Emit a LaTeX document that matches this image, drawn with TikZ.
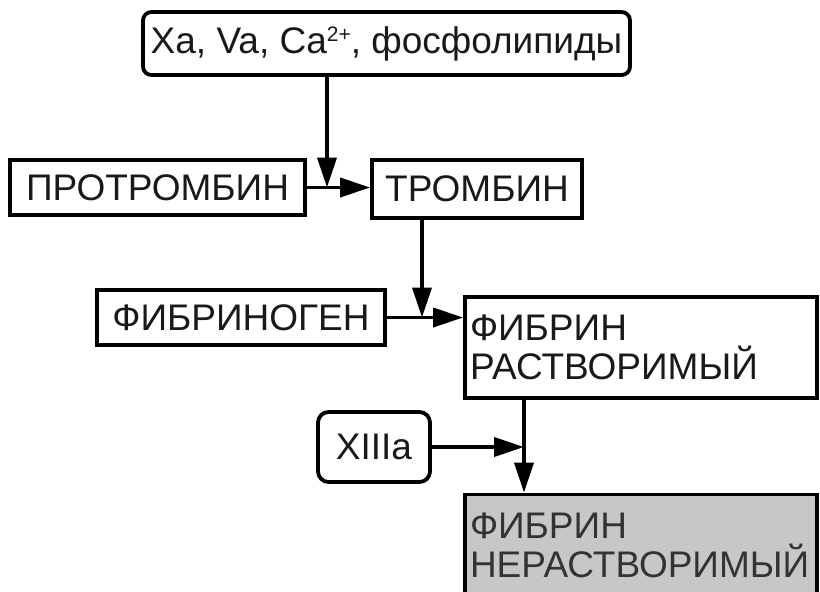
\documentclass[tikz,border=0pt]{standalone}
\usepackage{fontspec}
\setmainfont{Liberation Sans}
\usetikzlibrary{arrows.meta,positioning}
\newdimen\px
\px=0.5pt
\tikzstyle{arrow} = [line width=1.9pt,-{Triangle[length=15pt,width=9.5pt]}]

\begin{document}
\begin{tikzpicture} [
    x=\px, y=-\px,
    box/.style={rectangle,draw,line width=1.9pt,fill=white,text=black!90,inner sep=0pt,
                font=\fontsize{18.5}{19.5}\selectfont},
    res/.style={box,align=left,text width=342\px,minimum height=101\px},
    ]
    \path[use as bounding box,clip] (0,0) rectangle (820,591);
    \fill[white] (0,0) rectangle (820,591);

    \node [box,rounded corners=.8ex,minimum width=487\px,minimum height=63\px] (xa) at (386.5,43.5)
          {Xa, Va, Ca\raisebox{0.6ex}{\fontsize{10.5}{10.5}\selectfont 2+}, фосфолипиды};
    \node [box,minimum width=295\px,minimum height=55\px] (pro) at (157.5,187.5) {ПРОТРОМБИН};
    \node [box,minimum width=210\px,minimum height=58\px] (trom) at (477,189) {ТРОМБИН};
    \node [box,minimum width=288\px,minimum height=55\px] (fgen) at (241,317.5) {ФИБРИНОГЕН};
    \node [res,minimum width=352\px] (fsol) at (641,347.5) {ФИБРИН\\РАСТВОРИМЫЙ};
    \node [box,rounded corners=1ex,minimum width=112\px,minimum height=70\px] (xiii) at (374,447) {XIIIa};
    \node [res,minimum width=352\px,fill=black!22,text=black!80] (fins) at (641,545) {ФИБРИН\\НЕРАСТВОРИМЫЙ};

    % junctions on the lines
    \coordinate (j1) at (327,187.5);
    \coordinate (j2) at (422,317.5);
    \coordinate (j3) at (524,447);

    \draw[arrow] (pro.east) -- (pro.east -| trom.west);
    \draw[arrow] (xa.south -| j1) -- (j1);
    \draw[arrow] (fgen.east) -- (fgen.east -| fsol.west);
    \draw[arrow] (trom.south -| j2) -- (j2);
    \draw[arrow] (fsol.south -| j3) -- (fins.north -| j3);
    \draw[arrow] (xiii.east) -- (j3);
\end{tikzpicture}
\end{document}
